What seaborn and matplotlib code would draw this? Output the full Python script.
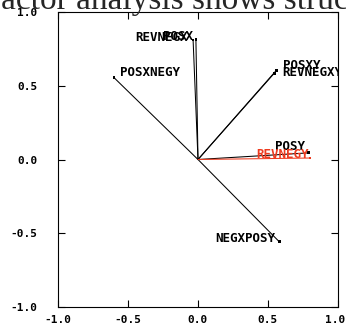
import matplotlib
matplotlib.use('Agg')
import matplotlib.pyplot as plt
import numpy as np
import pandas as pd
import seaborn as sns

# loadings
labels = ['POSX', 'REVNEGX', 'POSXNEGY', 'POSXY', 'REVNEGXY', 'POSY', 'REVNEGY', 'NEGXPOSY']
load_x = [-0.015, -0.035, -0.60, 0.56, 0.545, 0.79, 0.80, 0.58]
load_y = [0.815, 0.810, 0.555, 0.605, 0.585, 0.045, 0.010, -0.557]
highlight = ['REVNEGY']
ticks = [-1.0, -0.5, 0.0, 0.5, 1.0]

# label placement: (dx px, dy px, ha)
place = {
    'POSX': (-3, 3, 'right'),
    'REVNEGX': (-5, 3, 'right'),
    'POSXNEGY': (6, 5, 'left'),
    'POSXY': (7, 5, 'left'),
    'REVNEGXY': (8, 1, 'left'),
    'POSY': (-4, 6, 'right'),
    'REVNEGY': (-1, 4, 'right'),
    'NEGXPOSY': (-4, 3, 'right'),
}

sns.set_theme(style='ticks')
plt.rcParams['font.family'] = ['DejaVu Sans Mono']
plt.rcParams['font.weight'] = 'bold'

rows = []
for lab, x, y in zip(labels, load_x, load_y):
    grp = 'hi' if lab in highlight else 'lo'
    rows.append({'label': lab, 'x': 0.0, 'y': 0.0, 'grp': grp, 'ord': 0})
    rows.append({'label': lab, 'x': x, 'y': y, 'grp': grp, 'ord': 1})
df = pd.DataFrame(rows)
pal = {'lo': 'black', 'hi': '#ee3b1f'}

fig = plt.figure(figsize=(3.46, 3.32), dpi=100)
ax = fig.add_axes([58 / 346, 1 - 307 / 332, 280 / 346, 295 / 332])

sns.lineplot(data=df, x='x', y='y', units='label', hue='grp', estimator=None,
             sort=False, palette=pal, linewidth=0.75, legend=False, ax=ax)
ends = df[df['ord'] == 1]
sns.scatterplot(data=ends, x='x', y='y', hue='grp', palette=pal, marker='s',
                s=4, linewidth=0, legend=False, ax=ax)

for lab, x, y in zip(labels, load_x, load_y):
    dx, dy, ha = place[lab]
    col = pal['hi'] if lab in highlight else 'black'
    ax.annotate(lab, (x, y), xytext=(dx, dy), textcoords='offset pixels',
                ha=ha, va='center', fontsize=9, fontweight='bold', color=col,
                annotation_clip=False, clip_on=True)

ax.set_xlim(-1, 1)
ax.set_ylim(-1, 1)
ax.set_xticks(ticks)
ax.set_yticks(ticks)
ax.set_xticklabels([f'{t:.1f}' for t in ticks])
ax.set_yticklabels([f'{t:.1f}' for t in ticks])
ax.set_xlabel('')
ax.set_ylabel('')
ax.tick_params(direction='in', length=5, width=0.8, top=True, right=True,
               labelsize=8, colors='black')
ax.tick_params(axis='x', pad=6)
ax.tick_params(axis='y', pad=15)
for s in ax.spines.values():
    s.set_linewidth(0.8)
    s.set_color('black')
for t in ax.get_xticklabels() + ax.get_yticklabels():
    t.set_fontweight('bold')
# keep the last x label inside the figure
ax.get_xticklabels()[-1].set_horizontalalignment('right')
ax.get_xticklabels()[-1].set_x(1.0)
import matplotlib.transforms as mtransforms
ax.get_xticklabels()[-1].set_transform(ax.get_xticklabels()[-1].get_transform()
                                       + mtransforms.Affine2D().translate(7, 0))

fig.text(-0.028, 1 - 9 / 332, 'factor analysis shows structure', family='Liberation Serif',
         fontsize=24, fontweight='normal', va='baseline', ha='left')

fig.savefig('out.png', dpi=100)
